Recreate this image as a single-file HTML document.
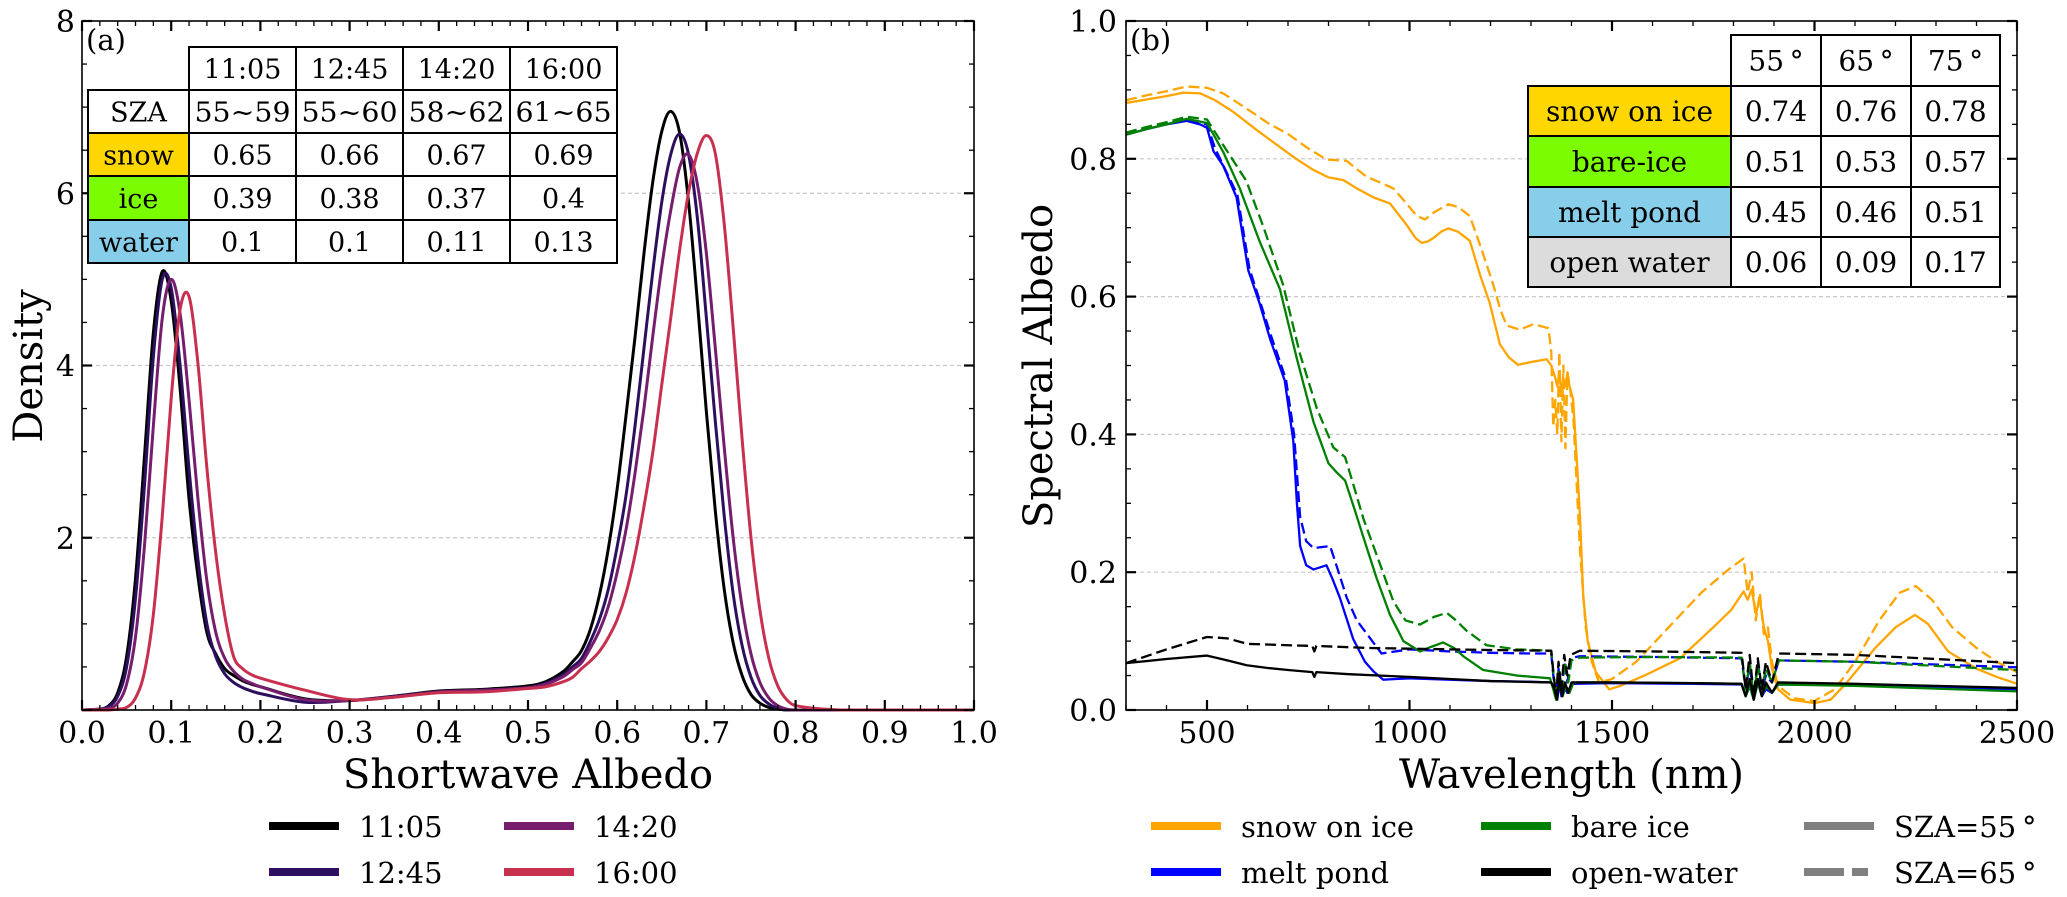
<!DOCTYPE html>
<html><head><meta charset="utf-8"><style>
html,body{margin:0;padding:0;background:#fff;}
svg{display:block;font-family:"DejaVu Serif","Liberation Serif",serif;}
</style></head><body>
<svg id="fig" width="2067" height="897" viewBox="0 0 2067 897" xmlns="http://www.w3.org/2000/svg">
<g id="pa"></g>
<g id="pb"></g>
</svg>
<script>
// ---------- Panel (a) data ----------
const albedoGrid = [0,0.02,0.03,0.04,0.05,0.06,0.07,0.08,0.09,0.10,0.11,0.12,0.13,0.14,0.15,0.16,0.17,0.18,0.19,0.20,0.25,0.30,0.35,0.40,0.45,0.50,0.52,0.54,0.55,0.56,0.57,0.58,0.59,0.60,0.61,0.62,0.63,0.64,0.65,0.66,0.67,0.68,0.69,0.70,0.71,0.72,0.73,0.74,0.75,0.76,0.77,0.78,0.79,0.80,0.85,0.90,0.95,1.0];
const dens1105 = [0,0.01,0.05,0.2,0.62,1.53,2.94,4.38,5.09,4.75,3.73,2.45,1.55,0.9,0.65,0.48,0.4,0.34,0.3,0.27,0.13,0.11,0.16,0.22,0.24,0.28,0.33,0.45,0.56,0.69,0.94,1.33,1.87,2.57,3.43,4.33,5.3,6.14,6.72,6.95,6.7,5.9,4.73,3.46,2.31,1.4,0.78,0.4,0.18,0.08,0.03,0.01,0,0,0,0,0,0];
const dens1245 = [0,0.01,0.04,0.16,0.5,1.3,2.6,4.1,5.0,4.9,4.0,2.8,1.75,1.0,0.62,0.42,0.32,0.26,0.22,0.19,0.09,0.11,0.16,0.21,0.23,0.26,0.31,0.41,0.5,0.6,0.8,1.05,1.4,1.9,2.5,3.3,4.2,5.1,5.9,6.45,6.69,6.45,5.7,4.55,3.35,2.25,1.35,0.75,0.38,0.17,0.07,0.02,0,0,0,0,0,0];
const dens1420 = [0,0.01,0.02,0.08,0.3,0.85,1.9,3.3,4.55,5.0,4.6,3.6,2.45,1.5,0.9,0.6,0.45,0.36,0.31,0.27,0.12,0.11,0.15,0.21,0.23,0.26,0.3,0.39,0.47,0.55,0.72,0.92,1.2,1.6,2.1,2.75,3.5,4.35,5.15,5.8,6.3,6.45,6.1,5.3,4.2,3.05,2.0,1.2,0.65,0.32,0.14,0.05,0.01,0,0,0,0,0];
const dens1600 = [0,0,0,0.01,0.03,0.14,0.44,1.11,2.25,3.62,4.65,4.8,4.02,2.81,1.82,1.1,0.62,0.48,0.41,0.37,0.23,0.12,0.15,0.2,0.21,0.25,0.27,0.33,0.38,0.48,0.57,0.68,0.84,1.05,1.36,1.8,2.36,3.0,3.78,4.55,5.34,6.01,6.47,6.67,6.46,5.64,4.44,3.15,2.0,1.16,0.6,0.28,0.12,0.05,0,0,0,0];
const seriesNamesA = ["11:05","12:45","14:20","16:00"];
const xTicksA = ["0.0","0.1","0.2","0.3","0.4","0.5","0.6","0.7","0.8","0.9","1.0"];
const yTicksA = [2,4,6,8];
const tableAHeader = ["11:05","12:45","14:20","16:00"];
const tableARows = [["SZA","55~59","55~60","58~62","61~65"],["snow","0.65","0.66","0.67","0.69"],["ice","0.39","0.38","0.37","0.4"],["water","0.1","0.1","0.11","0.13"]];

// ---------- Panel (b) data ----------
const snowSolidW = [300,350,400,442,483,520,565,620,680,720,762,800,837,870,911,952,993,1015,1030,1045,1059,1080,1096,1120,1149,1175,1198,1223,1245,1268,1300,1339,1350,1359,1365,1370,1375,1380,1385,1390,1395,1404,1413,1421,1429,1440,1460,1493,1520,1580,1668,1750,1794,1825,1835,1845,1855,1865,1875,1885,1895,1910,1940,2000,2040,2080,2150,2200,2248,2280,2330,2400,2450,2500];
const snowSolidV = [.881,.886,.891,.896,.895,.885,.868,.843,.817,.800,.784,.773,.769,.757,.744,.735,.704,.685,.678,.680,.685,.695,.699,.694,.681,.630,.591,.531,.512,.501,.505,.509,.50,.484,.47,.49,.46,.48,.47,.49,.47,.451,.364,.28,.165,.10,.055,.030,.035,.05,.075,.12,.145,.172,.16,.175,.14,.16,.12,.10,.06,.03,.015,.010,.015,.04,.09,.12,.138,.125,.085,.06,.048,.038];
const snowDashW = [300,350,400,450,500,540,600,650,700,750,795,845,870,894,930,960,990,1018,1038,1060,1096,1120,1149,1180,1207,1225,1240,1272,1306,1343,1350,1355,1360,1365,1370,1375,1380,1385,1390,1396,1405,1421,1435,1450,1468,1500,1560,1640,1720,1790,1825,1835,1845,1855,1865,1875,1885,1895,1910,1950,2000,2050,2100,2160,2210,2250,2290,2340,2400,2450,2500];
const snowDashV = [.885,.892,.898,.905,.903,.895,.872,.852,.836,.815,.799,.797,.785,.774,.765,.757,.737,.717,.712,.722,.734,.730,.717,.665,.617,.580,.558,.552,.560,.554,.52,.411,.45,.40,.52,.39,.50,.38,.49,.47,.42,.231,.12,.07,.040,.045,.07,.12,.17,.205,.22,.17,.20,.13,.17,.11,.12,.07,.035,.017,.013,.03,.07,.13,.17,.180,.16,.12,.09,.07,.055];
const pondSolidW = [300,350,400,450,483,500,516,540,573,602,630,656,692,713,722,730,745,763,795,810,828,861,890,911,935,1000,1100,1200,1300,1350,1360,1365,1370,1375,1380,1390,1400,1500,1700,1820,1830,1840,1850,1860,1870,1880,1895,1910,2100,2300,2500];
const pondSolidV = [.835,.843,.850,.855,.850,.845,.811,.79,.744,.638,.59,.538,.478,.391,.30,.238,.21,.204,.210,.19,.163,.103,.07,.056,.044,.046,.044,.042,.041,.040,.03,.015,.04,.02,.035,.025,.038,.039,.038,.037,.02,.035,.015,.04,.02,.03,.025,.037,.036,.034,.030];
const pondDashW = [300,350,400,450,500,520,575,605,660,695,715,730,745,763,804,825,845,870,894,931,1000,1100,1200,1300,1350,1355,1362,1368,1375,1382,1390,1398,1420,1600,1820,1830,1840,1850,1860,1870,1880,1895,1912,2100,2300,2500];
const pondDashV = [.837,.845,.852,.857,.850,.815,.748,.64,.54,.48,.40,.28,.245,.235,.238,.20,.163,.13,.111,.082,.088,.085,.083,.082,.082,.05,.02,.06,.025,.07,.04,.075,.078,.077,.075,.03,.065,.02,.07,.03,.05,.04,.072,.07,.066,.062];
const iceSolidW = [300,350,400,450,500,540,581,630,680,721,763,800,820,841,865,886,919,952,985,1026,1055,1083,1110,1133,1182,1265,1347,1355,1362,1370,1378,1386,1395,1405,1500,1700,1820,1830,1840,1850,1860,1870,1880,1895,1910,2100,2300,2500];
const iceSolidV = [.835,.843,.850,.858,.852,.81,.757,.68,.611,.512,.418,.358,.345,.333,.29,.251,.191,.138,.10,.085,.092,.098,.09,.078,.058,.050,.046,.03,.015,.04,.02,.035,.025,.04,.040,.039,.038,.02,.035,.015,.04,.02,.035,.025,.037,.035,.031,.027];
const iceDashW = [300,350,400,450,500,540,597,640,688,729,771,812,841,865,886,927,960,990,1026,1060,1092,1115,1141,1190,1265,1350,1356,1362,1368,1376,1384,1392,1400,1420,1600,1820,1830,1840,1850,1860,1870,1880,1895,1912,2100,2300,2500];
const iceDashV = [.838,.846,.853,.861,.857,.82,.768,.70,.617,.518,.438,.381,.367,.32,.278,.212,.158,.13,.124,.135,.141,.13,.115,.094,.088,.086,.05,.02,.06,.03,.07,.04,.072,.076,.077,.076,.03,.07,.02,.065,.03,.06,.04,.072,.07,.064,.058];
const waterSolidW = [300,400,500,550,598,650,700,760,765,770,850,1000,1100,1200,1350,1358,1364,1370,1377,1384,1392,1400,1500,1700,1820,1830,1840,1850,1860,1870,1880,1895,1910,2100,2300,2500];
const waterSolidV = [.068,.074,.079,.072,.065,.061,.058,.055,.048,.055,.052,.048,.045,.042,.040,.03,.015,.045,.02,.04,.025,.04,.040,.039,.038,.02,.045,.015,.045,.02,.04,.025,.04,.038,.035,.032];
const waterDashW = [300,400,500,550,600,700,760,765,770,900,1000,1200,1350,1356,1362,1368,1375,1382,1390,1398,1420,1600,1820,1830,1840,1850,1860,1870,1880,1895,1912,2100,2300,2500];
const waterDashV = [.068,.088,.106,.104,.096,.094,.093,.085,.093,.09,.089,.087,.086,.05,.02,.07,.03,.08,.05,.08,.086,.085,.083,.03,.08,.02,.075,.03,.07,.04,.082,.08,.074,.068];
const xTicksB = [500,1000,1500,2000,2500];
const yTicksB = ["0.0","0.2","0.4","0.6","0.8","1.0"];
const tableBHeader = ["55\u2009°","65\u2009°","75\u2009°"];
const tableBRows = [["snow on ice","0.74","0.76","0.78"],["bare-ice","0.51","0.53","0.57"],["melt pond","0.45","0.46","0.51"],["open water","0.06","0.09","0.17"]];

const NS = "http://www.w3.org/2000/svg";
function mk(parent, tag, attrs, text){
  const e = document.createElementNS(NS, tag);
  for (const k in attrs) e.setAttribute(k, attrs[k]);
  if (text !== undefined) e.textContent = text;
  parent.appendChild(e);
  return e;
}
const pa = document.getElementById('pa');
const pb = document.getElementById('pb');
const TICK_FS = 30, TITLE_FS = 40, LEG_FS = 29;

const A = {x0:82, x1:974, y0:710, y1:21};
const B = {x0:1126, x1:2017, y0:710, y1:21};
const xa = v => A.x0 + v*(A.x1-A.x0);
const ya = v => A.y0 - v/8*(A.y0-A.y1);
const xb = v => B.x0 + (v-300)/2200*(B.x1-B.x0);
const yb = v => B.y0 - v*(B.y0-B.y1);

function frameTicks(g, P, xmaj, xmin, ymaj, ymin){
  xmin.forEach(x=>{
    let t=mk(g,'line',{x1:x,x2:x,y1:P.y0,y2:P.y0-5,stroke:'#000','stroke-width':1.3});
     
    t=mk(g,'line',{x1:x,x2:x,y1:P.y1,y2:P.y1+5,stroke:'#000','stroke-width':1.3});
     
  });
  xmaj.forEach(x=>{
    let t=mk(g,'line',{x1:x,x2:x,y1:P.y0,y2:P.y0-10,stroke:'#000','stroke-width':2.2});
     
    t=mk(g,'line',{x1:x,x2:x,y1:P.y1,y2:P.y1+10,stroke:'#000','stroke-width':2.2});
     
  });
  ymin.forEach(y=>{
    let t=mk(g,'line',{x1:P.x0,x2:P.x0+5,y1:y,y2:y,stroke:'#000','stroke-width':1.3});
     
    t=mk(g,'line',{x1:P.x1,x2:P.x1-5,y1:y,y2:y,stroke:'#000','stroke-width':1.3});
     
  });
  ymaj.forEach(y=>{
    let t=mk(g,'line',{x1:P.x0,x2:P.x0+10,y1:y,y2:y,stroke:'#000','stroke-width':2.2});
     
    t=mk(g,'line',{x1:P.x1,x2:P.x1-10,y1:y,y2:y,stroke:'#000','stroke-width':2.2});
     
  });
}
function smoothPath(pts){
  let d = 'M'+pts[0][0].toFixed(2)+','+pts[0][1].toFixed(2);
  for (let i=0;i<pts.length-1;i++){
    const p0=pts[Math.max(0,i-1)], p1=pts[i], p2=pts[i+1], p3=pts[Math.min(pts.length-1,i+2)];
    const h=p2[0]-p1[0];
    const s1=(p2[1]-p0[1])/(p2[0]-p0[0]||1), s2=(p3[1]-p1[1])/(p3[0]-p1[0]||1);
    let c1=[p1[0]+h/3, p1[1]+s1*h/3];
    let c2=[p2[0]-h/3, p2[1]-s2*h/3];
    c1[1]=Math.min(c1[1],A.y0); c2[1]=Math.min(c2[1],A.y0);
    d+=' C'+c1[0].toFixed(2)+','+c1[1].toFixed(2)+' '+c2[0].toFixed(2)+','+c2[1].toFixed(2)+' '+p2[0].toFixed(2)+','+p2[1].toFixed(2);
  }
  return d;
}
function linePath(ws, vs){
  return ws.map((w,i)=>(i?'L':'M')+xb(w).toFixed(2)+','+yb(vs[i]).toFixed(2)).join(' ');
}

// ================= PANEL A =================
yTicksA.slice(0,3).forEach(v=>{
  const g=mk(pa,'line',{x1:A.x0,x2:A.x1,y1:ya(v),y2:ya(v),stroke:'#c8c8c8','stroke-width':1.2,'stroke-dasharray':'4,3'});
   
});
const colorsA = ['#000000','#2c0f5e','#761d6e','#c8304f'];
[dens1105,dens1245,dens1420,dens1600].forEach((ser,si)=>{
  const pts = albedoGrid.map((a,i)=>[xa(a), ya(ser[i])]);
  const p=mk(pa,'path',{d:smoothPath(pts),fill:'none',stroke:colorsA[si],'stroke-width':3,'stroke-linejoin':'round'});
  
  
});
let fa=mk(pa,'rect',{x:A.x0,y:A.y1,width:A.x1-A.x0,height:A.y0-A.y1,fill:'none',stroke:'#000','stroke-width':1.6});
 
{
  const xmaj=[],xmin=[],ymaj=[],ymin=[];
  for(let i=0;i<=10;i++) xmaj.push(xa(i/10));
  for(let i=0;i<=50;i++) if(i%5) xmin.push(xa(i/50));
  for(let i=0;i<=8;i+=2) ymaj.push(ya(i));
  for(let i=0;i<=16;i++) if(i%4) ymin.push(ya(i/2));
  frameTicks(pa,A,xmaj,xmin,ymaj,ymin);
}
xTicksA.forEach((t,i)=>{
  const e=mk(pa,'text',{x:xa(i/10),y:743,'text-anchor':'middle','font-size':TICK_FS},t);
   
});
yTicksA.forEach(v=>{
  const e=mk(pa,'text',{x:75,y:ya(v)+11,'text-anchor':'end','font-size':TICK_FS},String(v));
   
});
let e;
e=mk(pa,'text',{x:(A.x0+A.x1)/2,y:788,'text-anchor':'middle','font-size':TITLE_FS},'Shortwave Albedo');
 
e=mk(pa,'text',{x:0,y:0,'text-anchor':'middle','font-size':TITLE_FS,transform:'translate(42,366) rotate(-90)'},'Density');
 
e=mk(pa,'text',{x:86,y:50,'font-size':29},'(a)');
 

// table A
{
  const cx=[88,189,296,403,510,617], ry=[47,90,133,176,220,263];
  const g=mk(pa,'g',{});
   
  const fills=[null,'#ffd700','#7cfc00','#87ceeb'];
  tableAHeader.forEach((h,c)=>{
    const r=mk(g,'rect',{x:cx[c+1],y:ry[0],width:cx[c+2]-cx[c+1],height:ry[1]-ry[0],fill:'#fff',stroke:'#000','stroke-width':2});
     
    const t=mk(g,'text',{x:(cx[c+1]+cx[c+2])/2,y:(ry[0]+ry[1])/2+10,'text-anchor':'middle','font-size':27},h);
     
  });
  tableARows.forEach((row,ri)=>{
    row.forEach((v,c)=>{
      const r=mk(g,'rect',{x:cx[c],y:ry[ri+1],width:cx[c+1]-cx[c],height:ry[ri+2]-ry[ri+1],fill:(c===0&&fills[ri])?fills[ri]:'#fff',stroke:'#000','stroke-width':2});
       
      const t=mk(g,'text',{x:(cx[c]+cx[c+1])/2,y:(ry[ri+1]+ry[ri+2])/2+10,'text-anchor':'middle','font-size':27,textLength:(ri===0&&c>0)?96:'', lengthAdjust:'spacingAndGlyphs'},v);
      if(!(ri===0&&c>0)){t.removeAttribute('textLength');t.removeAttribute('lengthAdjust');}
       
    });
  });
}
// legend A
{
  const g=mk(pa,'g',{});
   
  const pos=[[269,826],[269,872],[504,826],[504,872]];
  [0,1,2,3].forEach((si,k)=>{
    const [x,y]=pos[k];
    const l=mk(g,'line',{x1:x,x2:x+70,y1:y,y2:y,stroke:colorsA[si],'stroke-width':8});
     
    const t=mk(g,'text',{x:x+90,y:y+11,'font-size':LEG_FS},seriesNamesA[si]);
     
  });
}

// ================= PANEL B =================
[0.2,0.4,0.6,0.8].forEach(v=>{
  const g=mk(pb,'line',{x1:B.x0,x2:B.x1,y1:yb(v),y2:yb(v),stroke:'#c8c8c8','stroke-width':1.2,'stroke-dasharray':'4,3'});
   
});
const seriesB = [
  ['snow-on-ice-sza55',snowSolidW,snowSolidV,'#ffa500',false],
  ['snow-on-ice-sza65',snowDashW,snowDashV,'#ffa500',true],
  ['melt-pond-sza55',pondSolidW,pondSolidV,'#0000ff',false],
  ['melt-pond-sza65',pondDashW,pondDashV,'#0000ff',true],
  ['bare-ice-sza55',iceSolidW,iceSolidV,'#008000',false],
  ['bare-ice-sza65',iceDashW,iceDashV,'#008000',true],
  ['open-water-sza55',waterSolidW,waterSolidV,'#000000',false],
  ['open-water-sza65',waterDashW,waterDashV,'#000000',true]
];
seriesB.forEach(s=>{
  const at={d:linePath(s[1],s[2]),fill:'none',stroke:s[3],'stroke-width':2.3,'stroke-linejoin':'round'};
  if(s[4]) at['stroke-dasharray']='11,5';
  const p=mk(pb,'path',at);
  
  
});
let fb=mk(pb,'rect',{x:B.x0,y:B.y1,width:B.x1-B.x0,height:B.y0-B.y1,fill:'none',stroke:'#000','stroke-width':1.6});
 
{
  const xmaj=[],xmin=[],ymaj=[],ymin=[];
  for(let w=500;w<=2500;w+=500) xmaj.push(xb(w));
  for(let w=300;w<=2500;w+=100) if(w%500) xmin.push(xb(w));
  for(let i=0;i<=5;i++) ymaj.push(yb(i*0.2));
  for(let i=0;i<=20;i++) if(i%4) ymin.push(yb(i*0.05));
  frameTicks(pb,B,xmaj,xmin,ymaj,ymin);
}
xTicksB.forEach(w=>{
  const t=mk(pb,'text',{x:xb(w),y:743,'text-anchor':'middle','font-size':TICK_FS},String(w));
   
});
yTicksB.forEach(v=>{
  const t=mk(pb,'text',{x:1117,y:yb(parseFloat(v))+11,'text-anchor':'end','font-size':TICK_FS},v);
   
});
e=mk(pb,'text',{x:(B.x0+B.x1)/2,y:788,'text-anchor':'middle','font-size':TITLE_FS},'Wavelength (nm)');
 
e=mk(pb,'text',{x:0,y:0,'text-anchor':'middle','font-size':TITLE_FS,transform:'translate(1052,366) rotate(-90)'},'Spectral Albedo');
 
e=mk(pb,'text',{x:1130,y:50,'font-size':29},'(b)');
 

// table B
{
  const cx=[1528,1731,1821,1911,2000], ry=[35,86,136,187,237,287];
  const g=mk(pb,'g',{});
   
  const fills=['#ffd700','#7cfc00','#87ceeb','#dcdcdc'];
  tableBHeader.forEach((h,c)=>{
    const r=mk(g,'rect',{x:cx[c+1],y:ry[0],width:cx[c+2]-cx[c+1],height:ry[1]-ry[0],fill:'#fff',stroke:'#000','stroke-width':2});
     
    const t=mk(g,'text',{x:(cx[c+1]+cx[c+2])/2,y:(ry[0]+ry[1])/2+10,'text-anchor':'middle','font-size':28},h);
     
  });
  tableBRows.forEach((row,ri)=>{
    row.forEach((v,c)=>{
      const r=mk(g,'rect',{x:cx[c],y:ry[ri+1],width:cx[c+1]-cx[c],height:ry[ri+2]-ry[ri+1],fill:c===0?fills[ri]:'#fff',stroke:'#000','stroke-width':2});
       
      const t=mk(g,'text',{x:(cx[c]+cx[c+1])/2,y:(ry[ri+1]+ry[ri+2])/2+10,'text-anchor':'middle','font-size':28},v);
       
    });
  });
}
// legend B
{
  const g=mk(pb,'g',{});
   
  const items=[['snow on ice','#ffa500',false,1151,826],['melt pond','#0000ff',false,1151,872],['bare ice','#008000',false,1481,826],['open-water','#000000',false,1481,872],['SZA=55\u2009°','#808080',false,1804,826],['SZA=65\u2009°','#808080',true,1804,872]];
  items.forEach(it=>{
    const at={x1:it[3],x2:it[3]+70,y1:it[4],y2:it[4],stroke:it[1],'stroke-width':8};
    if(it[2]) at['stroke-dasharray']='40,8,16,8';
    const l=mk(g,'line',at);
     
    const t=mk(g,'text',{x:it[3]+90,y:it[4]+11,'font-size':LEG_FS},it[0]);
     
  });
}
</script>
</body></html>
